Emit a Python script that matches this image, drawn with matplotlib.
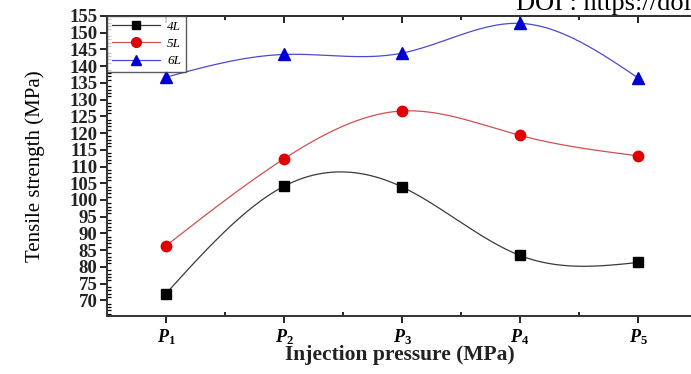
import numpy as np
import matplotlib
matplotlib.use('Agg')
from matplotlib import pyplot as plt
from matplotlib.ticker import MultipleLocator

# values
pressures = ['$P_1$', '$P_2$', '$P_3$', '$P_4$', '$P_5$']
s4L = [72.0, 104.1, 103.9, 83.4, 81.3]
s5L = [86.3, 112.3, 126.6, 119.3, 113.2]
s6L = [136.7, 143.5, 143.9, 152.8, 136.5]


def spline(x, y, n=200):
    # natural cubic spline, only used to draw the smooth curve
    x = np.asarray(x, float)
    y = np.asarray(y, float)
    k = len(x)
    h = np.diff(x)
    A = np.zeros((k, k))
    r = np.zeros(k)
    A[0, 0] = A[-1, -1] = 1
    for i in range(1, k - 1):
        A[i, i - 1] = h[i - 1]
        A[i, i] = 2 * (h[i - 1] + h[i])
        A[i, i + 1] = h[i]
        r[i] = 6 * ((y[i + 1] - y[i]) / h[i] - (y[i] - y[i - 1]) / h[i - 1])
    m = np.linalg.solve(A, r)
    xs = np.linspace(x[0], x[-1], n)
    j = np.clip(np.searchsorted(x, xs) - 1, 0, k - 2)
    t = xs - x[j]
    hj = h[j]
    b = (y[j + 1] - y[j]) / hj - hj * (2 * m[j] + m[j + 1]) / 6
    ys = y[j] + b * t + m[j] / 2 * t ** 2 + (m[j + 1] - m[j]) / (6 * hj) * t ** 3
    return xs, ys


plt.rcParams['font.family'] = 'Liberation Serif'
plt.rcParams['mathtext.fontset'] = 'custom'
plt.rcParams['mathtext.it'] = 'Liberation Serif:italic:bold'
plt.rcParams['mathtext.rm'] = 'Liberation Serif:bold'

fig = plt.figure(figsize=(6.91, 3.74), dpi=100)
ax = fig.add_axes([107 / 691, 1 - 316 / 374, 590 / 691, 300 / 374])

x = np.arange(1, 6)
series = [(s4L, '4L', '#3a3a3a', 's', 'black', 6.5),
          (s5L, '5L', '#d05050', 'o', '#e00000', 7.5),
          (s6L, '6L', '#4a4ad0', '^', '#0000d0', 8)]
for vals, lab, lc, mk, mc, ms in series:
    xs, ys = spline(x, vals)
    ax.plot(xs, ys, color=lc, lw=0.9)
    ax.plot(x, vals, linestyle='none', marker=mk, color=mc, ms=ms)
    ax.plot([], [], color=lc, lw=0.9, marker=mk, mfc=mc, mec=mc, ms=ms - 0.5, label=lab)

ax.set_xlim(0.5, 5.5)
ax.set_ylim(65.3, 155)
ax.set_yticks(np.arange(70, 156, 5))
ax.yaxis.set_minor_locator(MultipleLocator(1))
ax.set_xticks(x)
ax.set_xticklabels(pressures)
ax.xaxis.set_minor_locator(MultipleLocator(0.5))

for s in ax.spines.values():
    s.set_linewidth(1.4)
    s.set_color('#333333')

ax.tick_params(axis='y', which='major', direction='out', length=5, width=1.2,
               labelsize=13.5, pad=2)
ax.tick_params(axis='y', which='minor', direction='in', length=3, width=0.9)
ax.tick_params(axis='x', which='major', direction='out', length=5, width=1.2,
               labelsize=13, pad=3)
ax.tick_params(axis='x', which='minor', direction='in', length=3, width=1.2)
for t in ax.get_yticklabels():
    t.set_fontweight('bold')
    t.set_color('#222222')

# top axis: ticks pointing into the plot, no labels
top = ax.secondary_xaxis('top')
top.set_xticks(x)
top.xaxis.set_minor_locator(MultipleLocator(0.5))
top.tick_params(axis='x', which='major', direction='in', length=5, width=1.2, labeltop=False)
top.tick_params(axis='x', which='minor', direction='in', length=3, width=1.2)
top.spines['top'].set_linewidth(1.4)
top.spines['top'].set_color('#333333')

ax.set_ylabel('Tensile strength (MPa)', fontsize=15)
ax.yaxis.set_label_coords(-0.105, 0.5)
ax.set_xlabel('Injection pressure (MPa)', fontsize=15.5, fontweight='bold', color='#222222')
ax.xaxis.label.set_va('center')
ax.xaxis.set_label_coords((400 - 107) / 590, -(355 - 316) / 300)

leg = ax.legend(loc='upper left', prop={'style': 'italic', 'size': 9.5}, handlelength=3.7,
                borderaxespad=0.0, frameon=True, fancybox=False, edgecolor='#333333',
                labelspacing=0.38, borderpad=0.35, handletextpad=0.5)
leg.get_frame().set_linewidth(1.0)

fig.text(516 / 691, 1 - 10 / 374, 'DOI : https://doi.org', fontsize=19,
         va='baseline', ha='left')

fig.savefig('out.png', dpi=100)
